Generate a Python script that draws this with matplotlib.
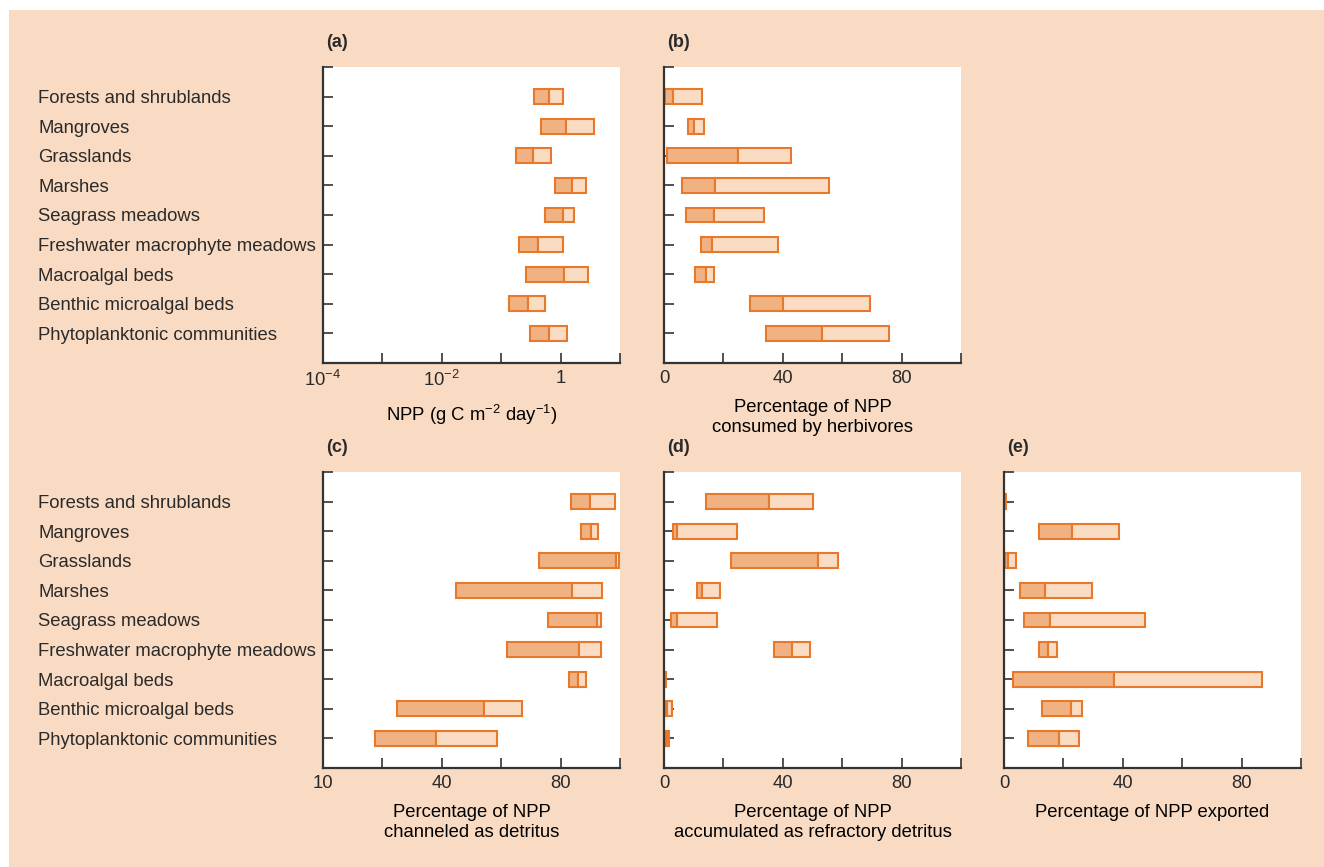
import matplotlib.pyplot as plt
from matplotlib.patches import Rectangle
from matplotlib.ticker import FixedLocator, NullFormatter

plt.rcParams['font.family'] = ['Liberation Sans', 'DejaVu Sans']
plt.rcParams['mathtext.default'] = 'regular'
plt.rcParams['text.color'] = '#2b2a2a'
plt.rcParams['xtick.color'] = '#2b2a2a'
plt.rcParams['ytick.color'] = '#2b2a2a'

categories = ['Forests and shrublands', 'Mangroves', 'Grasslands', 'Marshes',
              'Seagrass meadows', 'Freshwater macrophyte meadows', 'Macroalgal beds',
              'Benthic microalgal beds', 'Phytoplanktonic communities']

# (a) NPP, g C m-2 day-1 : low / median / high
npp_lo = [0.35, 0.46, 0.18, 0.80, 0.54, 0.20, 0.26, 0.135, 0.31]
npp_mid = [0.63, 1.23, 0.34, 1.53, 1.08, 0.41, 1.12, 0.28, 0.63]
npp_hi = [1.09, 3.59, 0.68, 2.70, 1.65, 1.11, 2.84, 0.55, 1.26]

# (b) % consumed by herbivores
herb_lo = [0.45, 8.0, 0.9, 6.0, 7.3, 12.3, 10.6, 29.1, 34.5]
herb_mid = [2.9, 10.2, 24.9, 17.3, 17.0, 16.1, 14.2, 40.2, 53.3]
herb_hi = [12.7, 13.6, 42.6, 55.5, 33.7, 38.5, 16.9, 69.4, 75.9]

# (c) % channeled as detritus
det_lo = [83.4, 86.8, 72.8, 44.8, 75.6, 62.0, 82.9, 25.0, 17.5]
det_mid = [89.8, 90.3, 98.5, 83.7, 92.4, 86.3, 85.7, 54.1, 38.0]
det_hi = [98.4, 92.7, 99.8, 94.0, 93.7, 93.7, 88.7, 67.0, 58.7]

# (d) % accumulated as refractory detritus
ref_lo = [14.0, 2.9, 22.4, 11.0, 2.2, 37.2, 0.0, 0.2, 0.2]
ref_mid = [35.4, 4.4, 52.0, 12.7, 4.5, 43.0, 0.3, 1.1, 0.9]
ref_hi = [50.3, 24.5, 58.7, 18.9, 17.9, 49.2, 0.6, 2.8, 1.6]

# (e) % exported
exp_lo = [0.1, 11.8, 0.3, 5.3, 6.6, 11.9, 3.1, 12.9, 8.0]
exp_mid = [0.45, 23.0, 1.5, 13.8, 15.6, 14.9, 36.9, 22.4, 18.6]
exp_hi = [0.8, 38.8, 3.9, 29.6, 47.6, 17.9, 86.9, 26.3, 25.2]

bg = '#f9dbc3'
edge = '#e8782a'
dark = '#f0b282'
light = '#fadcc4'
fs = 13.3

W, H = 1324, 867
fig = plt.figure(figsize=(W / 100, H / 100), dpi=100, facecolor='white')
fig.patches.append(Rectangle((9 / W, 0), 1 - 9 / W, 1 - 10 / H,
                             transform=fig.transFigure, facecolor=bg,
                             edgecolor='none', zorder=-10))

aw, ah = 297 / W, 296 / H
lefts = [323 / W, 664 / W, 1004 / W]
top_row = 1 - 363 / H
bot_row = 1 - 768 / H


def panel(rect, lo, mid, hi, letter, xlabel, log=False, ylabels=False, xticklabels=None):
    ax = fig.add_axes(rect)
    ax.set_facecolor('white')
    y = list(range(len(categories)))
    w1 = [m - l for l, m in zip(lo, mid)]
    w2 = [h - m for m, h in zip(mid, hi)]
    ax.barh(y, w1, left=lo, height=0.5, color=dark, edgecolor=edge, linewidth=1.5, zorder=2)
    ax.barh(y, w2, left=mid, height=0.5, color=light, edgecolor=edge, linewidth=1.5, zorder=2)
    ax.set_ylim(9, -1)
    for s in ['top', 'right']:
        ax.spines[s].set_visible(False)
    for s in ['left', 'bottom']:
        ax.spines[s].set_color('#333333')
        ax.spines[s].set_linewidth(1.6)
    ax.set_yticks(range(-1, 9))
    if ylabels:
        ax.set_yticklabels([''] + categories, fontsize=fs, ha='left')
        ax.tick_params(axis='y', pad=205)
    else:
        ax.set_yticklabels([])
    ax.tick_params(axis='y', direction='in', length=7.5, width=1.2, color='#333333')
    if log:
        ax.set_xscale('log')
        ax.set_xlim(1e-4, 10)
        ax.xaxis.set_major_locator(FixedLocator([1e-4, 1e-2, 1]))
        ax.set_xticklabels(['$10^{-4}$', '$10^{-2}$', '1'])
        ax.xaxis.set_minor_locator(FixedLocator([1e-3, 1e-1, 10]))
    else:
        ax.set_xlim(0, 100)
        ax.xaxis.set_major_locator(FixedLocator([0, 40, 80]))
        ax.set_xticklabels(xticklabels or ['0', '40', '80'])
        ax.xaxis.set_minor_locator(FixedLocator([20, 60, 100]))
    ax.xaxis.set_minor_formatter(NullFormatter())
    ax.tick_params(axis='x', which='both', direction='in', length=7, width=1.2,
                   color='#333333', labelsize=fs, pad=5)
    ax.set_xlabel(xlabel, fontsize=fs, labelpad=9, linespacing=1.2)
    ax.text(0.01, 1.055, letter, transform=ax.transAxes, fontsize=13,
            fontweight='bold', va='bottom', ha='left')
    return ax


panel([lefts[0], top_row, aw, ah], npp_lo, npp_mid, npp_hi, '(a)',
      'NPP (g C m$^{-2}$ day$^{-1}$)', log=True, ylabels=True)
panel([lefts[1], top_row, aw, ah], herb_lo, herb_mid, herb_hi, '(b)',
      'Percentage of NPP\nconsumed by herbivores')
panel([lefts[0], bot_row, aw, ah], det_lo, det_mid, det_hi, '(c)',
      'Percentage of NPP\nchanneled as detritus', ylabels=True,
      xticklabels=['10', '40', '80'])
panel([lefts[1], bot_row, aw, ah], ref_lo, ref_mid, ref_hi, '(d)',
      'Percentage of NPP\naccumulated as refractory detritus')
panel([lefts[2], bot_row, aw, ah], exp_lo, exp_mid, exp_hi, '(e)',
      'Percentage of NPP exported')

fig.savefig('out.png', dpi=100, facecolor='white')
